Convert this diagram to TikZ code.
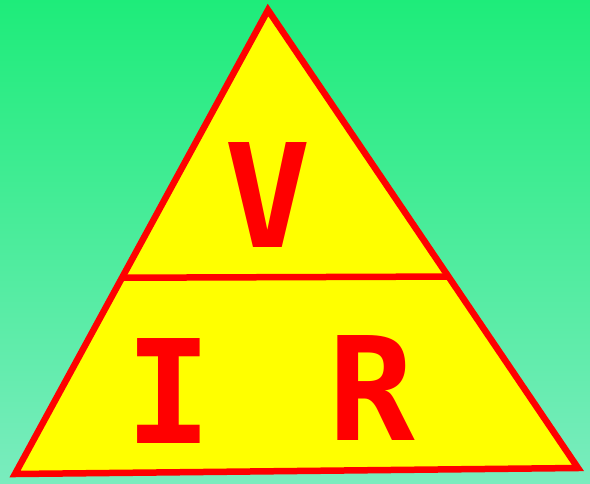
\documentclass[tikz,border=0pt]{standalone}
\usepackage{fontspec}
\newfontfamily\lettersfont{DejaVu Sans Mono}
\usetikzlibrary{calc}
\definecolor{bgtop}{RGB}{30,236,122}
\definecolor{bgbottom}{RGB}{122,236,190}
\definecolor{tred}{RGB}{255,0,0}
\definecolor{tyellow}{RGB}{255,255,0}
\begin{document}
\begin{tikzpicture}[x=1pt, y=-1pt,
  edge/.style={draw=tred, line width=6.5pt, line join=miter},
  letter/.style={text=tred, inner sep=0pt, font=\lettersfont\bfseries\fontsize{144}{144}\selectfont}]
\useasboundingbox (0,0) rectangle (590,483);
\shade[top color=bgtop, bottom color=bgbottom] (0,0) rectangle (590,483);
\coordinate (apex) at (268,10); \coordinate (left) at (15,474); \coordinate (right) at (578,468);
\filldraw[edge, fill=tyellow] (apex) -- (left) -- (right) -- cycle;
\coordinate (midL) at ($(apex)!0.577!(left)$); \coordinate (midR) at ($(apex)!0.582!(right)$);
\draw[edge, line cap=butt] (midL) -- (midR);
\node[letter] (V) at (267.5,195.5) {V};
\node[letter] (I) at (168.5,391.5) {I};
\node[letter] (R) at (372,388) {R};
\end{tikzpicture}
\end{document}
